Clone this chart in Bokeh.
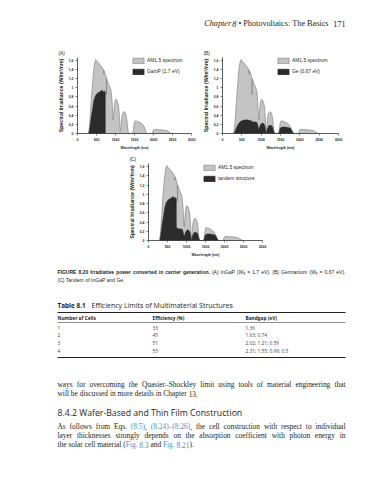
from bokeh.plotting import figure
from bokeh.layouts import row
from bokeh.models import Range1d, FixedTicker, Legend, LegendItem, ColumnDataSource
from bokeh.embed import file_html
from bokeh.resources import INLINE
from bokeh.core.properties import value

# ---------------- data ----------------
wl_am15 = [280, 300, 320, 340, 360, 380, 400, 420, 440, 460,
           480, 500, 520, 540, 560, 580, 600, 620, 640, 660,
           680, 690, 700, 720, 740, 755, 762, 770, 790, 810,
           830, 850, 870, 890, 910, 925, 940, 955, 970, 990,
           1010, 1030, 1050, 1070, 1090, 1110, 1125, 1140, 1160, 1180,
           1200, 1220, 1240, 1260, 1280, 1300, 1320, 1340, 1360, 1450,
           1470, 1490, 1510, 1530, 1560, 1590, 1620, 1650, 1680, 1710,
           1740, 1770, 1790, 1810, 1830, 1960, 1980, 2000, 2030, 2070,
           2110, 2160, 2210, 2260, 2310, 2360, 2400, 2430, 2460, 2480]
irr_am15 = [0, 0.05, 0.2, 0.45, 0.7, 0.95, 1.15, 1.35, 1.5, 1.58,
            1.62, 1.6, 1.57, 1.56, 1.54, 1.52, 1.5, 1.47, 1.46, 1.43,
            1.4, 1.3, 1.38, 1.33, 1.28, 1.25, 0.85, 1.2, 1.15, 1.1,
            1.06, 1.02, 0.98, 0.9, 0.7, 0.45, 0.3, 0.45, 0.62, 0.72,
            0.75, 0.74, 0.7, 0.65, 0.55, 0.3, 0.05, 0.08, 0.3, 0.42,
            0.46, 0.48, 0.47, 0.45, 0.4, 0.3, 0.12, 0.02, 0, 0,
            0.08, 0.22, 0.27, 0.28, 0.27, 0.26, 0.25, 0.24, 0.22, 0.2,
            0.17, 0.12, 0.06, 0.02, 0, 0, 0.04, 0.08, 0.09, 0.09,
            0.085, 0.08, 0.08, 0.075, 0.07, 0.06, 0.04, 0.02, 0.01, 0]

wl_gainp = [300, 330, 360, 400, 430, 470, 520, 560, 600, 650, 690, 700, 720, 730, 731]
irr_gainp = [0, 0.15, 0.35, 0.55, 0.72, 0.82, 0.88, 0.9, 0.92, 0.95, 0.9, 0.93, 0.92, 0.9, 0]

wl_ge = [300, 340, 380, 420, 460, 500, 560, 620, 680, 690,
         700, 740, 755, 762, 770, 810, 850, 890, 910, 925,
         940, 955, 970, 1000, 1030, 1060, 1090, 1110, 1125, 1140,
         1160, 1200, 1240, 1280, 1300, 1320, 1340, 1360, 1450, 1470,
         1490, 1510, 1560, 1620, 1680, 1740, 1770, 1800, 1830, 1850]
irr_ge = [0, 0.08, 0.16, 0.22, 0.26, 0.28, 0.29, 0.3, 0.29, 0.27,
          0.29, 0.28, 0.27, 0.19, 0.26, 0.25, 0.25, 0.24, 0.19, 0.12,
          0.08, 0.12, 0.17, 0.21, 0.23, 0.22, 0.18, 0.09, 0.015, 0.02,
          0.1, 0.17, 0.18, 0.16, 0.12, 0.05, 0.01, 0, 0, 0.04,
          0.11, 0.13, 0.14, 0.14, 0.13, 0.12, 0.1, 0.05, 0.01, 0]

wl_tandem = [300, 330, 360, 400, 430, 470, 520, 560, 600, 650, 690, 700, 720, 730, 731,
             740, 755, 762, 770, 810, 850, 890, 910, 925,
             940, 955, 970, 1000, 1030, 1060, 1090, 1110, 1125, 1140,
             1160, 1200, 1240, 1280, 1300, 1320, 1340, 1360, 1450, 1470,
             1490, 1510, 1560, 1620, 1680, 1740, 1770, 1800, 1830, 1850]
irr_tandem = [0, 0.15, 0.35, 0.55, 0.72, 0.82, 0.88, 0.9, 0.92, 0.95, 0.9, 0.93, 0.92, 0.9, 0.28,
              0.28, 0.27, 0.19, 0.26, 0.25, 0.25, 0.24, 0.19, 0.12,
              0.08, 0.12, 0.17, 0.21, 0.23, 0.22, 0.18, 0.09, 0.015, 0.02,
              0.1, 0.17, 0.18, 0.16, 0.12, 0.05, 0.01, 0, 0, 0.04,
              0.11, 0.13, 0.14, 0.14, 0.13, 0.12, 0.1, 0.05, 0.01, 0]

x_ticks = [0, 500, 1000, 1500, 2000, 2500, 3000]
y_ticks = [0, 0.2, 0.4, 0.6, 0.8, 1, 1.2, 1.4, 1.6]
y_tick_labels = ["0", "0,2", "0,4", "0,6", "0,8", "1", "1,2", "1,4", "1,6"]

panel_labels = ["(A)", "(B)", "(C)"]
spectrum_label = "AM1.5 spectrum"
dark_labels = ["GaInP (1.7 eV)", "Ge (0.67 eV)", "tandem structure"]

table_headers = ["Number of Cells", "Efficiency (%)", "Bandgap (eV)"]
n_cells = ["1", "2", "3", "4"]
efficiency = ["33", "45", "51", "55"]
bandgap = ["1.36", "1.63; 0.74", "2.02; 1.21; 0.59", "2.31; 1.55; 0.99; 0.5"]

# ---------------- styles ----------------
SANS = "Liberation Sans"
SERIF = "Liberation Serif"
BOOK = "Open Sans"
INK = "#231f20"
LINK = "#4a8ec8"
LIGHT = "#c4c4c4"
DARK = "#2c2c2c"

# advance widths (1/1000 em) of the metric-compatible core fonts, for text layout
LC = "abcdefghijklmnopqrstuvwxyz"
UC = "ABCDEFGHIJKLMNOPQRSTUVWXYZ"
TIMES = dict(zip(LC, [444, 500, 444, 500, 444, 333, 500, 500, 278, 278, 500, 278, 778, 500, 500, 500, 500, 333, 389, 278, 500, 500, 722, 500, 500, 444]))
TIMES.update(zip(UC, [722, 667, 667, 722, 611, 556, 722, 722, 333, 389, 722, 611, 889, 722, 722, 556, 722, 667, 556, 611, 722, 722, 944, 722, 722, 611]))
TIMES.update({c: 500 for c in "0123456789"})
TIMES.update({" ": 250, "(": 333, ")": 333, ",": 250, "-": 333, ".": 250, ":": 278, ";": 278, "–": 500, "•": 350, "=": 564})
HELV = dict(zip(LC, [556, 556, 500, 556, 556, 278, 556, 556, 222, 222, 500, 222, 833, 556, 556, 556, 556, 333, 500, 278, 556, 500, 722, 500, 500, 500]))
HELV.update(zip(UC, [667, 667, 722, 722, 667, 611, 778, 722, 278, 500, 667, 556, 833, 722, 778, 667, 778, 722, 667, 611, 722, 667, 944, 667, 667, 611]))
HELV.update({c: 556 for c in "0123456789"})
HELV.update({" ": 278, "(": 333, ")": 333, ",": 278, "-": 333, ".": 278, ":": 278, ";": 278, "=": 584})
HELVB = dict(zip(LC, [556, 611, 556, 611, 556, 333, 611, 611, 278, 278, 556, 278, 889, 611, 611, 611, 611, 389, 556, 333, 611, 556, 778, 556, 556, 500]))
HELVB.update(zip(UC, [722, 722, 722, 722, 667, 611, 778, 722, 278, 556, 722, 611, 833, 722, 778, 667, 778, 722, 667, 611, 722, 667, 944, 667, 667, 611]))
HELVB.update({c: 556 for c in "0123456789"})
HELVB.update({" ": 278, "(": 333, ")": 333, ",": 278, "-": 333, ".": 278, ":": 333, ";": 333, "=": 584})
FONTS = {"serif": (SERIF, "normal", TIMES), "serif_i": (SERIF, "italic", TIMES),
         "sans": (SANS, "normal", HELV), "sans_i": (SANS, "italic", HELV),
         "sans_b": (SANS, "bold", HELVB)}


def tw(s, fk, size):
    m = FONTS[fk][2]
    return sum(m.get(c, 500) for c in s) * size / 1000.0


def layout_runs(runs, x0, y, x1=None, align="left"):
    words = [[]]
    for text, fk, size, color, dy in runs:
        parts = text.split(" ")
        for k, part in enumerate(parts):
            if k > 0:
                words.append([])
            if part:
                words[-1].append((part, fk, size, color, dy))
    words = [w for w in words if w]
    ww = [sum(tw(s, fk, sz) for s, fk, sz, c, dy in w) for w in words]
    space = tw(" ", runs[0][1], runs[0][2])
    n = len(words)
    if x1 is not None and n > 1:
        gap = (x1 - x0 - sum(ww)) / (n - 1)
        start = x0
    elif align == "right":
        gap = space
        start = x0 - (sum(ww) + gap * (n - 1))
    else:
        gap = space
        start = x0
    out = []
    x = start
    for w, wdt in zip(words, ww):
        xx = x
        for s, fk, sz, c, dy in w:
            out.append((xx, y + dy, s, fk, sz, c))
            xx += tw(s, fk, sz)
        x += wdt + gap
    return out


def draw(p, segs):
    src = ColumnDataSource(dict(
        x=[s[0] for s in segs], y=[s[1] for s in segs], text=[s[2] for s in segs],
        font=[FONTS[s[3]][0] for s in segs], style=[FONTS[s[3]][1] for s in segs],
        size=["%.2fpx" % s[4] for s in segs], color=[s[5] for s in segs]))
    p.text(x="x", y="y", text="text", text_font="font", text_font_style="style",
           text_font_size="size", text_color="color", text_align="left",
           text_baseline="middle", source=src)


def chart(width, height, bl, br, bt, bb, label, dwl, dirr, dlabel):
    p = figure(width=width, height=height, x_range=Range1d(0, 3000), y_range=Range1d(0, 1.665),
               output_backend="svg", toolbar_location=None,
               min_border_left=bl, min_border_right=br, min_border_top=bt, min_border_bottom=bb)
    p.grid.visible = False
    p.outline_line_color = None
    r1 = p.patch(wl_am15, irr_am15, fill_color=LIGHT, line_color="#7a7a7a", line_width=0.6)
    r2 = p.patch(dwl, dirr, fill_color=DARK, line_color="#1c1c1c", line_width=0.5)
    p.xaxis.ticker = FixedTicker(ticks=x_ticks)
    p.yaxis.ticker = FixedTicker(ticks=y_ticks)
    p.yaxis.major_label_overrides = {t: s for t, s in zip(y_ticks, y_tick_labels)}
    for ax in (p.xaxis[0], p.yaxis[0]):
        ax.major_label_text_font = SANS
        ax.major_label_text_font_size = "3.4px"
        ax.major_label_text_font_style = "bold"
        ax.major_label_text_color = INK
        ax.axis_label_text_font = SANS
        ax.axis_label_text_font_style = "bold"
        ax.axis_label_text_color = INK
        ax.axis_line_color = "#333333"
        ax.axis_line_width = 0.8
        ax.major_tick_line_color = "#333333"
        ax.major_tick_line_width = 0.6
        ax.major_tick_in = 0
        ax.major_tick_out = 2
        ax.minor_tick_line_color = None
        ax.major_label_standoff = 2
        ax.axis_label_standoff = 2
    p.xaxis.axis_label = "Wavelength (nm)"
    p.xaxis.axis_label_text_font_size = "3.5px"
    p.yaxis.axis_label = "Spectral Irradiance (W/m²/nm)"
    p.yaxis.axis_label_text_font_size = "5.2px"
    p.title.text = label
    p.title.text_font = SANS
    p.title.text_font_size = "4.8px"
    p.title.text_font_style = "normal"
    p.title.text_color = INK
    p.title.align = "left"
    p.title.offset = -19
    p.title.standoff = 3
    legend = Legend(items=[LegendItem(label=spectrum_label, renderers=[r1]),
                           LegendItem(label=dlabel, renderers=[r2])],
                    location=(54, 58), glyph_width=14, glyph_height=7, label_height=7,
                    label_standoff=2, spacing=4, padding=0, margin=0,
                    border_line_alpha=0, background_fill_alpha=0,
                    label_text_font=SANS, label_text_font_size="4.9px", label_text_color=INK)
    p.add_layout(legend)
    return p


def page(y0, y1):
    p = figure(width=380, height=y1 - y0, x_range=Range1d(0, 380), y_range=Range1d(y1, y0),
               output_backend="svg", toolbar_location=None, min_border=0,
               x_axis_location=None, y_axis_location=None)
    p.grid.visible = False
    p.outline_line_color = None
    return p


def txt(p, x, y, s, font, size, style="normal", color=INK, align="left"):
    p.text(x=[x], y=[y], text=[s], text_font=value(font), text_font_size=size,
           text_font_style=style, text_color=color, text_align=align, text_baseline="middle")


# ---------------- header (page y 0..42) ----------------
head = page(0, 42)
hs = 8.2
draw(head, layout_runs([("Chapter 8", "serif_i", hs, INK, 0),
                        (" • Photovoltaics: The Basics", "serif", hs, INK, 0)], 328, 23, align="right")
     + layout_runs([("171", "serif", hs, INK, 0)], 345, 23, align="right"))

# ---------------- charts ----------------
fa = chart(196, 110, 77, 5, 15, 18, panel_labels[0], wl_gainp, irr_gainp, dark_labels[0])
fb = chart(184, 110, 26, 42, 15, 18, panel_labels[1], wl_ge, irr_ge, dark_labels[1])
fc = chart(380, 110, 148, 118, 11, 22, panel_labels[2], wl_tandem, irr_tandem, dark_labels[2])

# ---------------- lower part (page y 262..480) ----------------
low = page(262, 480)
cs = 5.0
segs = layout_runs([("FIGURE 8.20  Irradiative power converted in carrier generation.", "sans_b", cs, INK, 0),
                    (" (A) InGaP (", "sans", cs, INK, 0), ("W", "sans_i", cs, INK, 0),
                    ("g", "sans", 3.5, INK, 1.3),
                    (" = 1.7 eV). (B) Germanium (", "sans", cs, INK, 0), ("W", "sans_i", cs, INK, 0),
                    ("g", "sans", 3.5, INK, 1.3), (" = 0.67 eV).", "sans", cs, INK, 0)], 57, 271, x1=345)
segs += layout_runs([("(C) Tandem of InGaP and Ge.", "sans", cs, INK, 0)], 57, 279)

bs = 7.4
segs += layout_runs([("ways for overcoming the Quasier–Shockley limit using tools of material engineering that",
                      "serif", bs, INK, 0)], 57, 384, x1=345)
segs += layout_runs([("will be discussed in more details in Chapter 13.", "serif", bs, INK, 0)], 57, 393)
segs += layout_runs([("As follows from Eqs. ", "serif", bs, INK, 0), ("(8.5)", "serif", bs, LINK, 0),
                     (", ", "serif", bs, INK, 0), ("(8.24)–(8.26)", "serif", bs, LINK, 0),
                     (", the cell construction with respect to individual", "serif", bs, INK, 0)],
                    57, 426, x1=345)
segs += layout_runs([("layer thicknesses strongly depends on the absorption coefficient with photon energy in",
                      "serif", bs, INK, 0)], 57, 435, x1=345)
segs += layout_runs([("the solar cell material (", "serif", bs, INK, 0), ("Fig. 8.3", "serif", bs, LINK, 0),
                     (" and ", "serif", bs, INK, 0), ("Fig. 8.21", "serif", bs, LINK, 0),
                     (").", "serif", bs, INK, 0)], 57, 444)
draw(low, segs)

# table
txt(low, 57, 305, "Table 8.1", BOOK, "6.4px", "bold")
txt(low, 91, 305, "Efficiency Limits of Multimaterial Structures", BOOK, "7.0px")
low.segment(x0=[57, 57, 57], y0=[312, 322, 357], x1=[345, 345, 345], y1=[312, 322, 357],
            line_color=INK, line_width=[1, 0.5, 1])
col_x = [57, 152, 245]
for cx, h in zip(col_x, table_headers):
    txt(low, cx, 317, h, BOOK, "4.8px", "bold")
for i in range(len(n_cells)):
    yy = 327 + 7.8 * i
    for cx, s in zip(col_x, (n_cells[i], efficiency[i], bandgap[i])):
        txt(low, cx, yy, s, BOOK, "4.8px", color="#444444")

# section heading
txt(low, 57, 412, "8.4.2 Wafer-Based and Thin Film Construction", BOOK, "8.7px")

open("out.html", "w").write(file_html([head, row(fa, fb), fc, low], INLINE))
